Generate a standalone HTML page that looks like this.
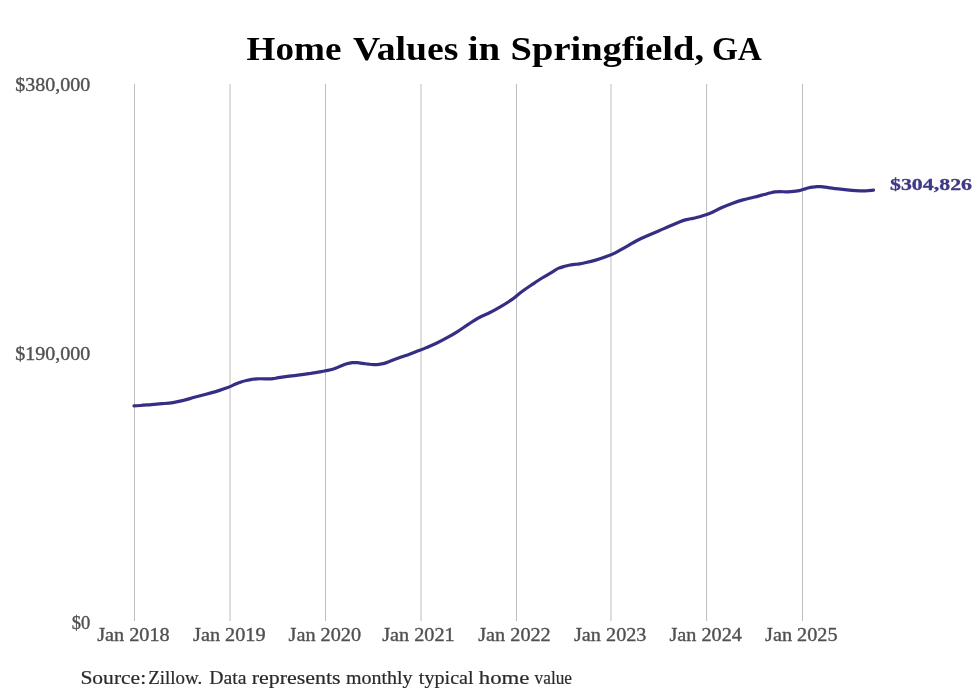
<!DOCTYPE html>
<html><head><meta charset="utf-8"><style>
html,body{margin:0;padding:0;background:#fff;width:980px;height:699px;overflow:hidden}
svg{display:block;will-change:transform;font-family:"Liberation Serif",serif}
.grid line{stroke:#bdbdbd;stroke-width:1}
.ax{fill:#505050;font-size:18.5px;stroke:#505050;stroke-width:0.35}
</style></head><body>
<svg width="980" height="699" viewBox="0 0 980 699">
<g font-weight="bold" font-size="33.2" fill="#000"><text x="246.60" y="59.7" textLength="94.81" lengthAdjust="spacingAndGlyphs">Home</text><text x="353.00" y="59.7" textLength="105.41" lengthAdjust="spacingAndGlyphs">Values</text><text x="467.80" y="59.7" textLength="32.42" lengthAdjust="spacingAndGlyphs">in</text><text x="510.60" y="59.7" textLength="193.46" lengthAdjust="spacingAndGlyphs">Springfield,</text><text x="712.00" y="59.7" textLength="49.87" lengthAdjust="spacingAndGlyphs">GA</text></g>
<g class="grid"><line x1="134.50" y1="84" x2="134.50" y2="621" /><line x1="230.00" y1="84" x2="230.00" y2="621" /><line x1="325.50" y1="84" x2="325.50" y2="621" /><line x1="421.00" y1="84" x2="421.00" y2="621" /><line x1="516.50" y1="84" x2="516.50" y2="621" /><line x1="611.00" y1="84" x2="611.00" y2="621" /><line x1="706.60" y1="84" x2="706.60" y2="621" /><line x1="802.50" y1="84" x2="802.50" y2="621" /></g>
<g class="ax">
<text x="90.3" y="90.8" text-anchor="end" textLength="75" lengthAdjust="spacingAndGlyphs">$380,000</text>
<text x="90.3" y="360" text-anchor="end" textLength="75" lengthAdjust="spacingAndGlyphs">$190,000</text>
<text x="90.3" y="629.2" text-anchor="end">$0</text>
<text x="133.40" y="640.6" text-anchor="middle" textLength="72.5" lengthAdjust="spacingAndGlyphs">Jan 2018</text><text x="229.30" y="640.6" text-anchor="middle" textLength="72.5" lengthAdjust="spacingAndGlyphs">Jan 2019</text><text x="324.80" y="640.6" text-anchor="middle" textLength="72.5" lengthAdjust="spacingAndGlyphs">Jan 2020</text><text x="418.40" y="640.6" text-anchor="middle" textLength="72.5" lengthAdjust="spacingAndGlyphs">Jan 2021</text><text x="514.50" y="640.6" text-anchor="middle" textLength="72.5" lengthAdjust="spacingAndGlyphs">Jan 2022</text><text x="610.25" y="640.6" text-anchor="middle" textLength="72.5" lengthAdjust="spacingAndGlyphs">Jan 2023</text><text x="705.70" y="640.6" text-anchor="middle" textLength="72.5" lengthAdjust="spacingAndGlyphs">Jan 2024</text><text x="801.30" y="640.6" text-anchor="middle" textLength="72.5" lengthAdjust="spacingAndGlyphs">Jan 2025</text>
</g>
<path d="M134.0,405.9 C135.1,405.8 137.8,405.7 140.7,405.5 C143.6,405.3 147.8,404.9 151.4,404.6 C155.0,404.3 158.5,404.0 162.1,403.7 C165.7,403.4 169.3,403.2 172.9,402.6 C176.5,402.1 180.0,401.3 183.6,400.4 C187.2,399.5 190.7,398.3 194.3,397.3 C197.9,396.3 201.4,395.4 205.0,394.5 C208.6,393.6 212.1,392.7 215.7,391.6 C219.3,390.5 223.1,389.4 226.4,388.1 C229.7,386.9 233.2,385.1 235.7,384.1 C238.1,383.1 239.3,382.6 241.1,382.0 C242.9,381.4 244.6,380.9 246.4,380.5 C248.2,380.1 250.0,379.7 251.8,379.4 C253.6,379.1 254.4,378.9 257.1,378.8 C259.8,378.7 265.2,378.8 267.9,378.8 C270.6,378.8 271.4,378.8 273.2,378.6 C275.0,378.4 275.9,378.1 278.6,377.7 C281.3,377.3 285.7,376.7 289.3,376.2 C292.9,375.7 296.4,375.4 300.0,374.9 C303.6,374.4 307.1,373.9 310.7,373.4 C314.3,372.8 318.1,372.2 321.4,371.6 C324.7,371.0 328.2,370.4 330.7,369.8 C333.1,369.2 334.3,368.8 336.1,368.1 C337.9,367.4 339.6,366.4 341.4,365.7 C343.2,365.0 345.0,364.3 346.8,363.8 C348.6,363.3 350.3,362.9 352.1,362.7 C353.9,362.5 355.7,362.6 357.5,362.7 C359.3,362.8 361.1,363.2 362.9,363.4 C364.7,363.6 366.4,363.9 368.2,364.1 C370.0,364.3 371.8,364.6 373.6,364.6 C375.4,364.7 377.1,364.6 378.9,364.4 C380.7,364.2 382.5,363.9 384.3,363.4 C386.1,362.9 387.8,362.1 389.6,361.4 C391.4,360.7 392.3,360.3 395.0,359.3 C397.7,358.3 402.1,356.8 405.7,355.5 C409.3,354.2 413.1,352.9 416.4,351.6 C419.7,350.3 422.4,349.3 425.7,347.9 C429.0,346.5 432.8,345.0 436.4,343.3 C440.0,341.6 443.5,339.7 447.1,337.7 C450.7,335.7 454.3,333.6 457.9,331.3 C461.5,329.0 465.0,326.4 468.6,324.1 C472.2,321.8 475.7,319.4 479.3,317.5 C482.9,315.6 486.4,314.3 490.0,312.5 C493.6,310.7 497.1,308.7 500.7,306.6 C504.3,304.5 508.1,302.2 511.4,299.9 C514.7,297.5 517.4,295.0 520.7,292.5 C524.0,290.0 527.8,287.4 531.4,285.0 C535.0,282.6 538.5,280.2 542.1,278.0 C545.7,275.8 550.2,273.2 552.9,271.6 C555.6,270.0 556.4,269.2 558.2,268.4 C560.0,267.6 561.8,267.1 563.6,266.6 C565.4,266.1 567.1,265.6 568.9,265.2 C570.7,264.8 572.5,264.6 574.3,264.4 C576.1,264.2 577.8,264.1 579.6,263.8 C581.4,263.5 582.3,263.3 585.0,262.7 C587.7,262.1 592.1,261.1 595.7,260.1 C599.3,259.1 603.1,257.9 606.4,256.6 C609.7,255.4 612.4,254.3 615.7,252.6 C619.0,250.9 622.8,248.6 626.4,246.6 C630.0,244.6 633.5,242.3 637.1,240.5 C640.7,238.7 644.3,237.1 647.9,235.5 C651.5,233.9 655.0,232.4 658.6,230.9 C662.2,229.4 665.7,227.8 669.3,226.3 C672.9,224.8 677.3,222.9 680.0,221.8 C682.7,220.7 683.6,220.4 685.4,219.9 C687.2,219.4 688.0,219.4 690.7,218.8 C693.4,218.2 698.1,217.2 701.4,216.2 C704.7,215.2 707.4,214.4 710.7,213.0 C714.0,211.6 717.8,209.3 721.4,207.7 C725.0,206.1 728.5,204.7 732.1,203.4 C735.7,202.1 739.3,200.9 742.9,199.9 C746.5,198.9 750.0,198.2 753.6,197.3 C757.2,196.4 761.6,195.2 764.3,194.5 C767.0,193.8 767.8,193.4 769.6,193.0 C771.4,192.6 773.2,192.1 775.0,191.9 C776.8,191.7 778.6,191.6 780.4,191.6 C782.2,191.6 783.9,191.9 785.7,191.9 C787.5,191.9 788.8,191.8 791.1,191.6 C793.4,191.4 797.2,191.0 799.3,190.6 C801.4,190.2 802.2,189.7 803.7,189.3 C805.2,188.9 806.6,188.3 808.0,188.0 C809.4,187.7 810.8,187.4 812.3,187.2 C813.8,187.0 815.2,186.8 816.7,186.7 C818.2,186.6 819.5,186.6 821.0,186.7 C822.5,186.8 823.9,187.0 825.4,187.2 C826.9,187.4 827.5,187.5 829.7,187.8 C831.9,188.1 835.5,188.6 838.4,188.9 C841.3,189.2 844.1,189.5 847.0,189.8 C849.9,190.1 852.8,190.4 855.7,190.6 C858.6,190.8 862.2,190.9 864.4,190.9 C866.6,190.9 867.2,190.7 868.7,190.6 C870.2,190.5 872.7,190.3 873.5,190.2" fill="none" stroke="#352e84" stroke-width="3.2" stroke-linecap="round" stroke-linejoin="round"/>
<text x="890" y="189.6" font-weight="bold" font-size="17.3" fill="#3d3a86" stroke="#3d3a86" stroke-width="0.3" textLength="82" lengthAdjust="spacingAndGlyphs">$304,826</text>
<g font-size="19" fill="#2a2a2a" stroke="#2a2a2a" stroke-width="0.2"><text x="80.40" y="684" textLength="65.75" lengthAdjust="spacingAndGlyphs">Source:</text><text x="148.20" y="684" textLength="54.05" lengthAdjust="spacingAndGlyphs">Zillow.</text><text x="209.20" y="684" textLength="37.22" lengthAdjust="spacingAndGlyphs">Data</text><text x="251.80" y="684" textLength="88.81" lengthAdjust="spacingAndGlyphs">represents</text><text x="346.00" y="684" textLength="66.61" lengthAdjust="spacingAndGlyphs">monthly</text><text x="418.80" y="684" textLength="54.82" lengthAdjust="spacingAndGlyphs">typical</text><text x="478.80" y="684" textLength="50.61" lengthAdjust="spacingAndGlyphs">home</text><text x="534.60" y="684" textLength="37.41" lengthAdjust="spacingAndGlyphs">value</text></g>
</svg>
</body></html>
